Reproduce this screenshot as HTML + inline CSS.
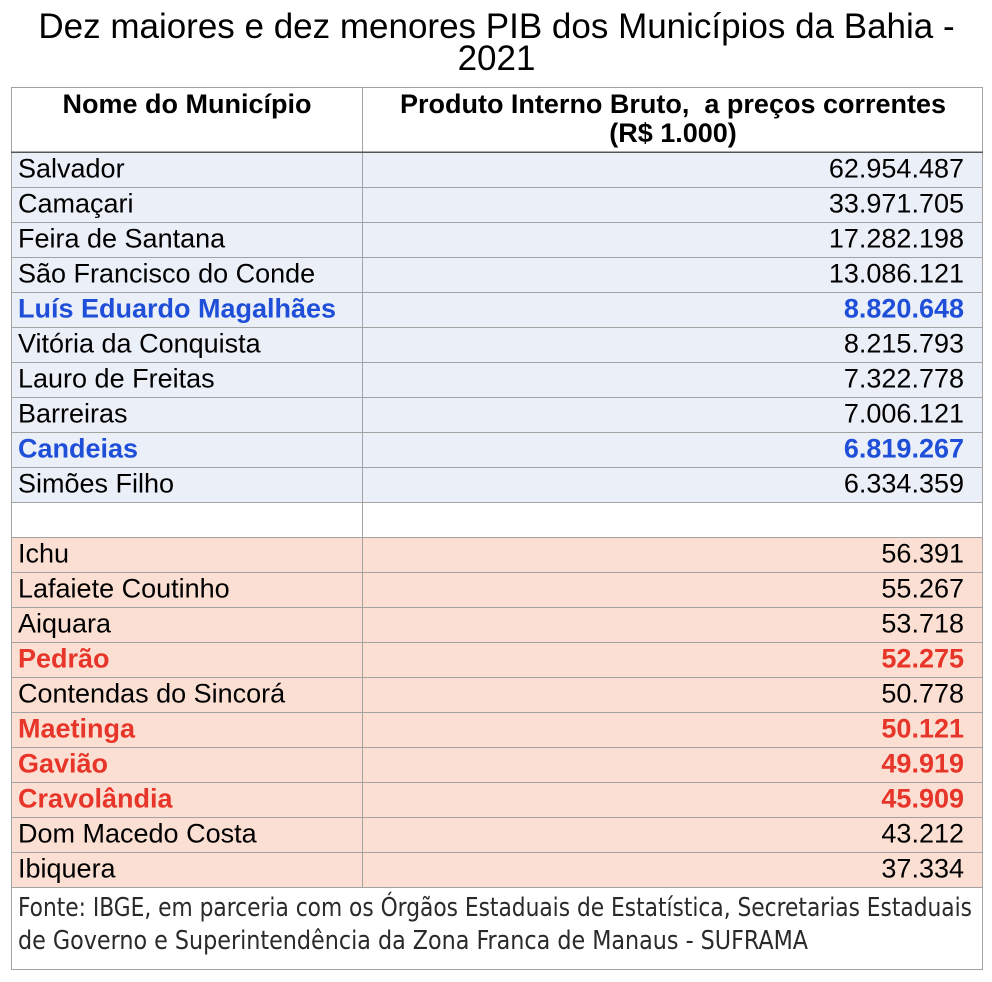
<!DOCTYPE html>
<html>
<head>
<meta charset="utf-8">
<style>
  html, body { margin:0; padding:0; background:#ffffff; }
  body { width:992px; height:982px; overflow:hidden; }
  svg { display:block; }
  text { font-family: "Liberation Sans", Arial, sans-serif; }
  .t { font-size:27px; fill:#000; }
  .b { font-weight:bold; }
  .blue { fill:#1f4fd8; font-weight:bold; }
  .red { fill:#e8352a; font-weight:bold; }
  .foot { font-family: "Liberation Sans Narrow", "DejaVu Sans Condensed", "Liberation Sans", sans-serif; font-size:26px; fill:#2a2a2a; }
</style>
</head>
<body>
<svg width="992" height="982" viewBox="0 0 992 982" xmlns="http://www.w3.org/2000/svg">
  <rect x="0" y="0" width="992" height="982" fill="#ffffff"/>

  <!-- Title -->
  <text x="496.5" y="38" text-anchor="middle" style="font-size:35px" fill="#000">Dez maiores e dez menores PIB dos Municípios da Bahia -</text>
  <text x="496.5" y="70" text-anchor="middle" style="font-size:35px" fill="#000">2021</text>

  <!-- Header background -->
  <rect x="11" y="87" width="972" height="65" fill="#ffffff"/>

  <!-- Row backgrounds: top 10 (blue) -->
  <rect x="11" y="153" width="972" height="350" fill="#eaeff8"/>
  <!-- blank row -->
  <rect x="11" y="503" width="972" height="35" fill="#ffffff"/>
  <!-- bottom 10 (salmon) -->
  <rect x="11" y="538" width="972" height="350" fill="#fbdfd3"/>
  <!-- footer -->
  <rect x="11" y="888" width="972" height="82" fill="#ffffff"/>

  <!-- Grid lines -->
  <g stroke="#a3a3a3" stroke-width="1" shape-rendering="crispEdges">
    <line x1="11" y1="87.5" x2="983" y2="87.5"/>
    <line x1="11.5" y1="87" x2="11.5" y2="970"/>
    <line x1="982.5" y1="87" x2="982.5" y2="970"/>
    <line x1="362.5" y1="87" x2="362.5" y2="888"/>
    <line x1="11" y1="187.5" x2="983" y2="187.5"/>
    <line x1="11" y1="222.5" x2="983" y2="222.5"/>
    <line x1="11" y1="257.5" x2="983" y2="257.5"/>
    <line x1="11" y1="292.5" x2="983" y2="292.5"/>
    <line x1="11" y1="327.5" x2="983" y2="327.5"/>
    <line x1="11" y1="362.5" x2="983" y2="362.5"/>
    <line x1="11" y1="397.5" x2="983" y2="397.5"/>
    <line x1="11" y1="432.5" x2="983" y2="432.5"/>
    <line x1="11" y1="467.5" x2="983" y2="467.5"/>
    <line x1="11" y1="502.5" x2="983" y2="502.5"/>
    <line x1="11" y1="537.5" x2="983" y2="537.5"/>
    <line x1="11" y1="572.5" x2="983" y2="572.5"/>
    <line x1="11" y1="607.5" x2="983" y2="607.5"/>
    <line x1="11" y1="642.5" x2="983" y2="642.5"/>
    <line x1="11" y1="677.5" x2="983" y2="677.5"/>
    <line x1="11" y1="712.5" x2="983" y2="712.5"/>
    <line x1="11" y1="747.5" x2="983" y2="747.5"/>
    <line x1="11" y1="782.5" x2="983" y2="782.5"/>
    <line x1="11" y1="817.5" x2="983" y2="817.5"/>
    <line x1="11" y1="852.5" x2="983" y2="852.5"/>
    <line x1="11" y1="887.5" x2="983" y2="887.5"/>
    <line x1="11" y1="969.5" x2="983" y2="969.5"/>
  </g>
  <!-- header bottom darker line -->
  <line x1="11" y1="152" x2="983" y2="152" stroke="#555555" stroke-width="1.5" shape-rendering="crispEdges"/>

  <!-- Header text -->
  <text class="t b" x="187" y="113" text-anchor="middle">Nome do Município</text>
  <text class="t b" x="673" y="113" text-anchor="middle" xml:space="preserve">Produto Interno Bruto,  a preços correntes</text>
  <text class="t b" x="673" y="142" text-anchor="middle">(R$ 1.000)</text>

  <!-- Top 10 -->
  <g>
    <text class="t" x="18" y="177.5">Salvador</text>
    <text class="t" x="964" y="177.5" text-anchor="end">62.954.487</text>
    <text class="t" x="18" y="212.5">Camaçari</text>
    <text class="t" x="964" y="212.5" text-anchor="end">33.971.705</text>
    <text class="t" x="18" y="247.5">Feira de Santana</text>
    <text class="t" x="964" y="247.5" text-anchor="end">17.282.198</text>
    <text class="t" x="18" y="282.5">São Francisco do Conde</text>
    <text class="t" x="964" y="282.5" text-anchor="end">13.086.121</text>
    <text class="t blue" x="18" y="317.5">Luís Eduardo Magalhães</text>
    <text class="t blue" x="964" y="317.5" text-anchor="end">8.820.648</text>
    <text class="t" x="18" y="352.5">Vitória da Conquista</text>
    <text class="t" x="964" y="352.5" text-anchor="end">8.215.793</text>
    <text class="t" x="18" y="387.5">Lauro de Freitas</text>
    <text class="t" x="964" y="387.5" text-anchor="end">7.322.778</text>
    <text class="t" x="18" y="422.5">Barreiras</text>
    <text class="t" x="964" y="422.5" text-anchor="end">7.006.121</text>
    <text class="t blue" x="18" y="457.5">Candeias</text>
    <text class="t blue" x="964" y="457.5" text-anchor="end">6.819.267</text>
    <text class="t" x="18" y="492.5">Simões Filho</text>
    <text class="t" x="964" y="492.5" text-anchor="end">6.334.359</text>
  </g>

  <!-- Bottom 10 -->
  <g>
    <text class="t" x="18" y="562.5">Ichu</text>
    <text class="t" x="964" y="562.5" text-anchor="end">56.391</text>
    <text class="t" x="18" y="597.5">Lafaiete Coutinho</text>
    <text class="t" x="964" y="597.5" text-anchor="end">55.267</text>
    <text class="t" x="18" y="632.5">Aiquara</text>
    <text class="t" x="964" y="632.5" text-anchor="end">53.718</text>
    <text class="t red" x="18" y="667.5">Pedrão</text>
    <text class="t red" x="964" y="667.5" text-anchor="end">52.275</text>
    <text class="t" x="18" y="702.5">Contendas do Sincorá</text>
    <text class="t" x="964" y="702.5" text-anchor="end">50.778</text>
    <text class="t red" x="18" y="737.5">Maetinga</text>
    <text class="t red" x="964" y="737.5" text-anchor="end">50.121</text>
    <text class="t red" x="18" y="772.5">Gavião</text>
    <text class="t red" x="964" y="772.5" text-anchor="end">49.919</text>
    <text class="t red" x="18" y="807.5">Cravolândia</text>
    <text class="t red" x="964" y="807.5" text-anchor="end">45.909</text>
    <text class="t" x="18" y="842.5">Dom Macedo Costa</text>
    <text class="t" x="964" y="842.5" text-anchor="end">43.212</text>
    <text class="t" x="18" y="877.5">Ibiquera</text>
    <text class="t" x="964" y="877.5" text-anchor="end">37.334</text>
  </g>

  <!-- Footer -->
  <text class="foot" x="18" y="916" textLength="954" lengthAdjust="spacingAndGlyphs">Fonte: IBGE, em parceria com os Órgãos Estaduais de Estatística, Secretarias Estaduais</text>
  <text class="foot" x="18" y="949" textLength="790" lengthAdjust="spacingAndGlyphs">de Governo e Superintendência da Zona Franca de Manaus - SUFRAMA</text>
</svg>
</body>
</html>
